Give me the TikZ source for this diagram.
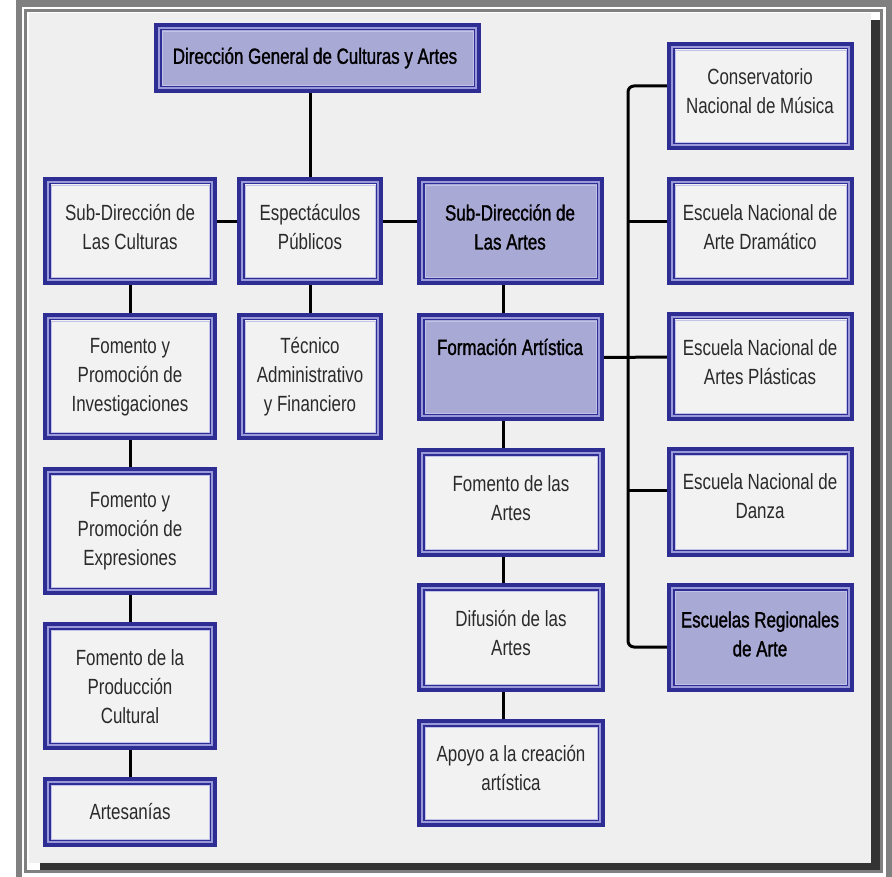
\documentclass[tikz,border=0pt]{standalone}
\usepackage{fontspec}
\setmainfont[FakeStretch=0.77]{Liberation Sans}
\newfontfamily\orgboldfont[FakeStretch=0.77,FakeBold=1.3]{Liberation Sans}
\usetikzlibrary{calc}
\definecolor{navy}{HTML}{2D2D94}
\definecolor{lav}{HTML}{9A9ADA}
\definecolor{lavfill}{HTML}{A9A9D6}
\definecolor{paper}{HTML}{F2F2F2}
\definecolor{bgc}{HTML}{EFEFEF}
\definecolor{framegray}{HTML}{808080}
\definecolor{shadowc}{HTML}{333333}
\definecolor{ink}{HTML}{2A2A2A}
\pgfdeclarelayer{back}
\pgfdeclarelayer{mid}
\pgfsetlayers{back,mid,main}
\tikzset{
  obox/.style={draw=navy, line width=4pt, inner sep=0pt, outer sep=0pt, rectangle},
  stripe/.style={draw=lav, line width=2pt},
  innerline/.style={draw=navy, line width=1.5pt},
  thinline/.style={draw=lav!60!white, line width=0.8pt},
  lbl/.style={align=center, inner sep=0pt, font=\fontsize{22}{29}\selectfont, text=ink},
  blbl/.style={align=center, inner sep=0pt, font=\fontsize{22}{29}\selectfont\orgboldfont, text=black},
  conn/.style={draw=black, line width=3pt},
}
\newcommand\orgbox[6]{%
  \pgfmathsetmacro\bxw{#4-#2-4}\pgfmathsetmacro\bxh{#5-#3-4}%
  \pgfmathsetmacro\bxcx{(#2+#4)/2}\pgfmathsetmacro\bxcy{(#3+#5)/2}%
  \node[obox, fill=#6, minimum width=\bxw pt, minimum height=\bxh pt] (#1) at (\bxcx,\bxcy) {};
  \draw[stripe] ([shift={(3,3)}]#1.north west) rectangle ([shift={(-3,-3)}]#1.south east);
  \draw[innerline] ([shift={(4.75,4.75)}]#1.north west) rectangle ([shift={(-4.75,-4.75)}]#1.south east);
  \draw[thinline] ([shift={(6,6)}]#1.north west) rectangle ([shift={(-6,-6)}]#1.south east);
}
\begin{document}
\begin{tikzpicture}[x=1pt,y=-1pt]
\useasboundingbox (0,0) rectangle (892,877);
\begin{pgfonlayer}{back}
  \fill[white] (0,0) rectangle (892,877);
  \fill[framegray] (16,0) rectangle (892,877);
  \fill[white] (22,7) rectangle (886,877);
  \fill[framegray] (24,9) rectangle (883,873);
  \fill[white] (27,12) rectangle (880,870);
  \fill[shadowc] (40,20) rectangle (880,870);
  \fill[bgc] (29,13) rectangle (871,863);
\end{pgfonlayer}

\orgbox{dir}{154}{23}{481}{93}{lavfill}
\orgbox{cult}{43}{177}{217}{285}{paper}
\orgbox{esp}{237}{177}{383}{285}{paper}
\orgbox{artes}{417}{177}{604}{285}{lavfill}
\orgbox{inv}{43}{313}{217}{440}{paper}
\orgbox{tec}{237}{313}{383}{440}{paper}
\orgbox{form}{417}{313}{604}{421}{lavfill}
\orgbox{exp}{43}{467}{217}{595}{paper}
\orgbox{prod}{43}{622}{217}{750}{paper}
\orgbox{arts}{43}{777}{217}{847}{paper}
\orgbox{foma}{417}{448}{605}{557}{paper}
\orgbox{dif}{417}{583}{605}{692}{paper}
\orgbox{apo}{417}{719}{605}{827}{paper}
\orgbox{cons}{667}{42}{854}{150}{paper}
\orgbox{dram}{667}{177}{854}{285}{paper}
\orgbox{plast}{667}{312}{854}{421}{paper}
\orgbox{danza}{667}{447}{854}{557}{paper}
\orgbox{reg}{667}{583}{854}{692}{lavfill}

\node[blbl] (dirt) at (315,58) {Dirección General de Culturas y Artes};
\node[lbl] (cultt) at (130,227) {Sub-Dirección de\\Las Culturas};
\node[lbl] (espt) at (310,227) {Espectáculos\\Públicos};
\node[blbl] (artest) at (510,227) {Sub-Dirección de\\Las Artes};
\node[blbl] (formt) at (510,347) {Formación Artística};
\node[lbl] (invt) at (130,377) {Fomento y\\Promoción de\\Investigaciones};
\node[lbl] (tect) at (310,377) {Técnico\\Administrativo\\y Financiero};
\node[lbl] (expt) at (130,531) {Fomento y\\Promoción de\\Expresiones};
\node[lbl] (prodt) at (130,687) {Fomento de la\\Producción\\Cultural};
\node[lbl] (artst) at (130,812) {Artesanías};
\node[lbl] (fomat) at (511,498) {Fomento de las\\Artes};
\node[lbl] (dift) at (511,633) {Difusión de las\\Artes};
\node[lbl] (apot) at (511,768) {Apoyo a la creación\\artística};
\node[lbl] (const) at (760,91) {Conservatorio\\Nacional de Música};
\node[lbl] (dramt) at (760,227) {Escuela Nacional de\\Arte Dramático};
\node[lbl] (plastt) at (760,362) {Escuela Nacional de\\Artes Plásticas};
\node[lbl] (danzat) at (760,496) {Escuela Nacional de\\Danza};
\node[blbl] (regt) at (760,634) {Escuelas Regionales\\de Arte};

\coordinate (tk) at (628,400);
\begin{pgfonlayer}{mid}
  \draw[conn] (esp.north |- dir.south) -- (esp.north);
  \draw[conn] ([yshift=9pt]cult.east) -- ([yshift=9pt]esp.west);
  \draw[conn] ([yshift=9pt]esp.east) -- ([yshift=9pt]artes.west);
  \draw[conn] (cult.south) -- (inv.north);
  \draw[conn] (inv.south) -- (exp.north);
  \draw[conn] (exp.south) -- (prod.north);
  \draw[conn] (prod.south) -- (arts.north);
  \draw[conn] (esp.south) -- (tec.north);
  \draw[conn] ([xshift=-7.5pt]artes.south) -- ([xshift=-7.5pt]form.north);
  \draw[conn] ([xshift=-7.5pt]form.south) -- ([xshift=-8pt]foma.north);
  \draw[conn] ([xshift=-8pt]foma.south) -- ([xshift=-8pt]dif.north);
  \draw[conn] ([xshift=-8pt]dif.south) -- ([xshift=-8pt]apo.north);
  \draw[conn] ([yshift=9.5pt]form.east) -- ([yshift=9.5pt]plast.west);
  \draw[conn, rounded corners=6pt] ([yshift=10pt]cons.west) -| (tk) |- ([yshift=-9.5pt]reg.west);
  \draw[conn] ([yshift=9pt]dram.west) -- ($(tk |- dram.west)+(0,-9)$);
  \draw[conn] ([yshift=12pt]danza.west) -- ($(tk |- danza.west)+(0,-12)$);
\end{pgfonlayer}
\end{tikzpicture}
\end{document}
